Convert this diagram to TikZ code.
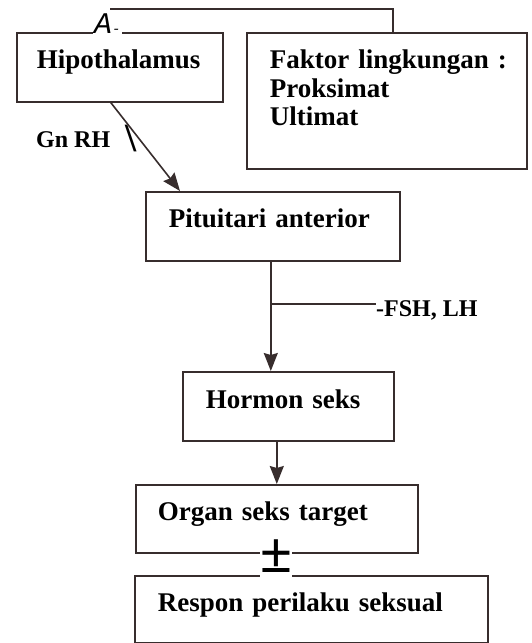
\documentclass[tikz,border=0pt]{standalone}
\usepackage{fontspec}
\setmainfont{Liberation Serif}
\newfontfamily\tandafont{Liberation Mono}
\usetikzlibrary{arrows.meta}
\definecolor{ink}{RGB}{55,45,45}
\begin{document}
\begin{tikzpicture}[x=1pt,y=-1pt,
	kotak/.style={draw=ink, line width=1.6pt, anchor=north west, inner ysep=0pt,
		align=left, font=\fontsize{27}{28.5}\selectfont\bfseries},
	label/.style={anchor=base west, inner sep=0pt, font=\fontsize{24}{25}\selectfont\bfseries},
	garis/.style={draw=ink, line width=1.6pt},
	fleche/.style={garis, -{Stealth[length=18pt,width=14pt,inset=2pt]}}]
	\useasboundingbox (0,0) rectangle (532,643);
	% les boites
	\node[kotak, inner xsep=20pt, text width=166pt, text height=36pt, text depth=33pt] (hypo) at (16,32) {Hipothalamus};
	\node[kotak, inner xsep=23pt, text width=234pt, text height=36pt, text depth=100pt] (faktor) at (246,32) {\mbox{Faktor lingkungan :}\\Proksimat\\Ultimat};
	\node[kotak, inner xsep=23pt, text width=208pt, text height=36pt, text depth=33pt] (pit) at (145,191) {Pituitari anterior};
	\node[kotak, inner xsep=23pt, text width=165pt, text height=37pt, text depth=32pt] (horm) at (182,371) {Hormon seks};
	\node[kotak, inner xsep=22pt, text width=238pt, text height=36pt, text depth=32pt] (organ) at (135,484) {Organ seks target};
	\node[kotak, inner xsep=23pt, text width=307pt, text height=36pt, text depth=31pt] (respon) at (134,575) {Respon perilaku seksual};
	% les textes
	\node[anchor=base west, fill=white, inner sep=1pt, font=\fontsize{30}{30}\tandafont\itshape] (tanda) at (93,33) {A{\fontsize{14}{14}\selectfont -}};
	\node[label] (gnrh) at (36,147) {Gn RH};
	\node[label, font=\fontsize{40}{40}\selectfont\bfseries] (miring) at (125,151) {\textbackslash};
	\node[label] (fsh) at (376,316) {-FSH, LH};
	\node[anchor=base, fill=white, inner sep=0pt, text depth=5pt, font=\fontsize{58}{58}\selectfont\bfseries] (pm) at (276,572) {\textpm};
	% les fleches
	\coordinate (lingk) at (110,9);
	\draw[garis] ([xshift=6pt]faktor.north) |- (lingk);
	\draw[fleche] ([xshift=-9pt]hypo.south) -- ([xshift=35pt]pit.north west);
	\coordinate (pitout) at ([xshift=-2pt]pit.south);
	\coordinate (fshin) at ([yshift=12pt]fsh.base west);
	\draw[fleche] (pitout) -- (pitout |- horm.north);
	\draw[garis] (pitout |- fshin) -- (fshin);
	\draw[fleche] (horm.south -| organ.north) -- (organ.north);
\end{tikzpicture}
\end{document}
